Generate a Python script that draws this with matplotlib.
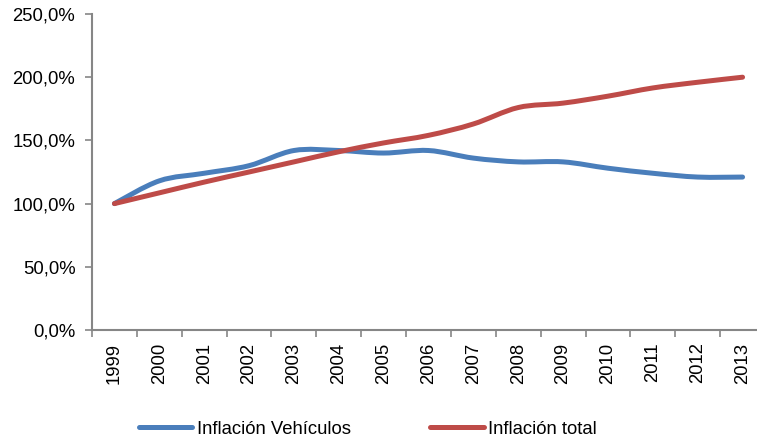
import numpy as np
import matplotlib
matplotlib.use("Agg")
import matplotlib.pyplot as plt
from matplotlib.path import Path
from matplotlib.patches import PathPatch
from matplotlib.lines import Line2D

plt.rcParams['font.family'] = ['Liberation Sans', 'DejaVu Sans']

years = ['1999', '2000', '2001', '2002', '2003', '2004', '2005', '2006',
         '2007', '2008', '2009', '2010', '2011', '2012', '2013']
vehiculos = [100, 118, 124, 130, 142, 142, 140, 142, 136, 133, 133, 128, 124, 121, 121]
total = [100, 108.5, 117, 125, 133, 141, 148, 154, 163, 176, 179.5, 185, 191.5, 196, 200]

BLUE = '#4A7EBB'
RED = '#BE4B48'
GREY = '#868686'


def smooth_path(xs, ys):
    # Catmull-Rom -> cubic bezier, like Excel's smoothed lines
    pts = np.column_stack([xs, ys]).astype(float)
    verts = [pts[0]]
    codes = [Path.MOVETO]
    n = len(pts)
    for i in range(n - 1):
        p0 = pts[max(i - 1, 0)]
        p1 = pts[i]
        p2 = pts[i + 1]
        p3 = pts[min(i + 2, n - 1)]
        c1 = p1 + (p2 - p0) / 6
        c2 = p2 - (p3 - p1) / 6
        verts += [c1, c2, p2]
        codes += [Path.CURVE4] * 3
    return Path(verts, codes)


fig = plt.figure(figsize=(7.57, 4.40), dpi=100)
ax = fig.add_axes([92 / 757, 0.25, 673 / 757, 316 / 440])

x = np.arange(len(years))
for ys, col in [(vehiculos, BLUE), (total, RED)]:
    patch = PathPatch(smooth_path(x, ys), facecolor='none', edgecolor=col,
                      lw=3.6, capstyle='round', joinstyle='round')
    ax.add_patch(patch)

ax.set_xlim(-0.5, len(years) - 0.5)
ax.set_ylim(0, 250)
ax.set_yticks(np.arange(0, 251, 50))
ax.set_yticklabels([f"{v:.1f}%".replace('.', ',') for v in np.arange(0, 251, 50)])

ax.set_xticks(x)
ax.set_xticklabels(years, rotation=90)
ax.set_xticks(np.arange(-0.5, len(years), 1), minor=True)
ax.tick_params(axis='x', which='major', length=0, pad=9)
ax.tick_params(axis='x', which='minor', length=5, color=GREY, width=1.2)
ax.tick_params(axis='y', length=5, color=GREY, width=1.2, pad=7)
ax.tick_params(labelsize=13.3, labelcolor='black')

for s in ['top', 'right']:
    ax.spines[s].set_visible(False)
for s in ['left', 'bottom']:
    ax.spines[s].set_color(GREY)
    ax.spines[s].set_linewidth(1.5)

handles = [Line2D([], [], color=BLUE, lw=3.6, solid_capstyle='round'),
           Line2D([], [], color=RED, lw=3.6, solid_capstyle='round')]
fig.legend(handles, ['Inflación Vehículos', 'Inflación total'], loc='center',
           bbox_to_anchor=(0.486, 0.025), ncol=2, frameon=False, fontsize=13.3,
           handlelength=2.9, handletextpad=0.25, columnspacing=4.3)

fig.savefig('out.png', dpi=100)
